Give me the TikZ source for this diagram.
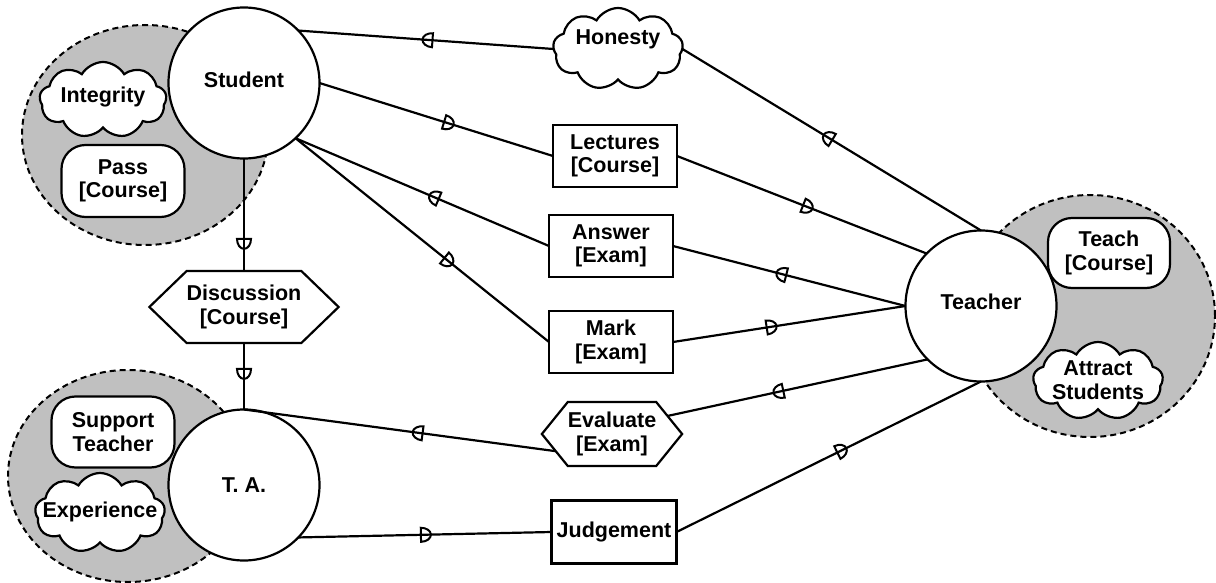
\documentclass[tikz,border=0pt]{standalone}
\usepackage{fontspec}
\setmainfont{Liberation Sans}
\usetikzlibrary{shapes.geometric,shapes.symbols,shapes.misc}
\definecolor{bnd}{RGB}{192,192,192}
\tikzset{
  every node/.style={font=\fontsize{21.5}{23.5}\selectfont\bfseries, align=center, inner sep=0pt, outer sep=0pt},
  actor/.style={circle, draw, line width=2.2pt, fill=white, minimum size=151pt},
  bound/.style={ellipse, draw, dash pattern=on 6pt off 4pt, line width=2pt, fill=bnd},
  softgoal/.style={cloud, cloud puffs=9, cloud puff arc=120, cloud ignores aspect, draw, line width=2.2pt, fill=white},
  goal/.style={rectangle, rounded corners=24pt, draw, line width=2.2pt, fill=white},
  resource/.style={rectangle, draw, line width=2.2pt, fill=white, minimum width=124pt, minimum height=62pt},
  task/.style={signal, signal to=west and east, draw, line width=2.2pt, fill=white},
  dep/.style={line width=2.2pt},
  dfwd/.pic={\draw[line width=2pt] (-4,-7) -- (-4,7) arc[start angle=90, end angle=-90, x radius=10, y radius=7] -- cycle;},
  dback/.pic={\draw[line width=2pt] (4,-7) -- (4,7) arc[start angle=90, end angle=270, x radius=10, y radius=7] -- cycle;},
  mk/.style={sloped, allow upside down, pos=#1}
}
\begin{document}
\begin{tikzpicture}[x=1pt,y=-1pt]
\useasboundingbox (0,0) rectangle (1216,583);
% actor boundaries
\node[bound, minimum width=246pt, minimum height=220pt] (stub) at (145,135) {};
\node[bound, minimum width=240pt, minimum height=212pt] (tab) at (128,476) {};
\node[bound, minimum width=250pt, minimum height=242pt] (teab) at (1090,316) {};
% actors
\node[actor] (stu) at (244,83) {};
\node (stut) at (244,80) {Student};
\node[actor] (ta) at (244,485) {T. A.};
\node[actor] (tea) at (981,306) {};
\node (teat) at (981,302) {Teacher};
% internal elements
\node[softgoal, minimum width=127pt, minimum height=76pt] (integ) at (103,100) {};
\node (integt) at (103,97) {Integrity};
\node[goal, minimum width=123pt, minimum height=72pt] (pass) at (123,181) {Pass\\{[Course]}};
\node[goal, minimum width=123pt, minimum height=71pt] (supp) at (113,432) {Support\\Teacher};
\node[softgoal, minimum width=130pt, minimum height=80pt] (exper) at (100,513) {};
\node (expert) at (100,512) {Experience};
\node[goal, minimum width=122pt, minimum height=70pt] (teach) at (1109,253) {Teach\\{[Course]}};
\node[softgoal, minimum width=130pt, minimum height=78pt] (attr) at (1098,381) {};
\node (attrt) at (1098,380) {Attract\\Students};
% dependums
\node[softgoal, minimum width=130pt, minimum height=82pt] (hon) at (618,49) {};
\node (hont) at (618,39) {Honesty};
\node[resource] (lec) at (615,156) {Lectures\\{[Course]}};
\node[resource] (ans) at (611,246) {Answer\\{[Exam]}};
\node[resource] (mark) at (611,342) {Mark\\{[Exam]}};
\node[task, signal pointer angle=88, minimum width=147pt, minimum height=72pt] (disc) at (244,307) {Discussion\\{[Course]}};
\node[task, signal pointer angle=102, minimum width=130pt, minimum height=64pt] (eval) at (612,434) {Evaluate\\{[Exam]}};
\node[resource, minimum width=125pt, minimum height=63pt] (judg) at (614,532) {Judgement};
% dependencies
\draw[dep] (stu.44) -- pic[mk=.51]{dback} (hon.west);
\draw[dep] (hon.east) -- pic[mk=.49]{dback} (tea.north);
\draw[dep] (stu.east) -- pic[mk=.55]{dfwd} (lec.west);
\draw[dep] (lec.east) -- pic[mk=.52]{dfwd} (tea.136);
\draw[dep] (stu.-47) -- pic[mk=.55]{dback} (ans.west);
\draw[dep] (ans.east) -- pic[mk=.47]{dback} (tea.west);
\draw[dep] (stu.-47) -- pic[mk=.6]{dfwd} (mark.west);
\draw[dep] (mark.east) -- pic[mk=.42]{dfwd} (tea.west);
\draw[dep] (stu.south) -- pic[mk=.75]{dfwd} (disc.north);
\draw[dep] (disc.south) -- pic[mk=.45]{dfwd} (ta.north);
\draw[dep] (ta.north) -- pic[mk=.56]{dback} (eval.197);
\draw[dep] (eval.18) -- pic[mk=.43]{dback} (tea.225);
\draw[dep] (ta.-44) -- pic[mk=.5]{dfwd} (judg.west);
\draw[dep] (judg.east) -- pic[mk=.54]{dfwd} (tea.south);
\end{tikzpicture}
\end{document}
